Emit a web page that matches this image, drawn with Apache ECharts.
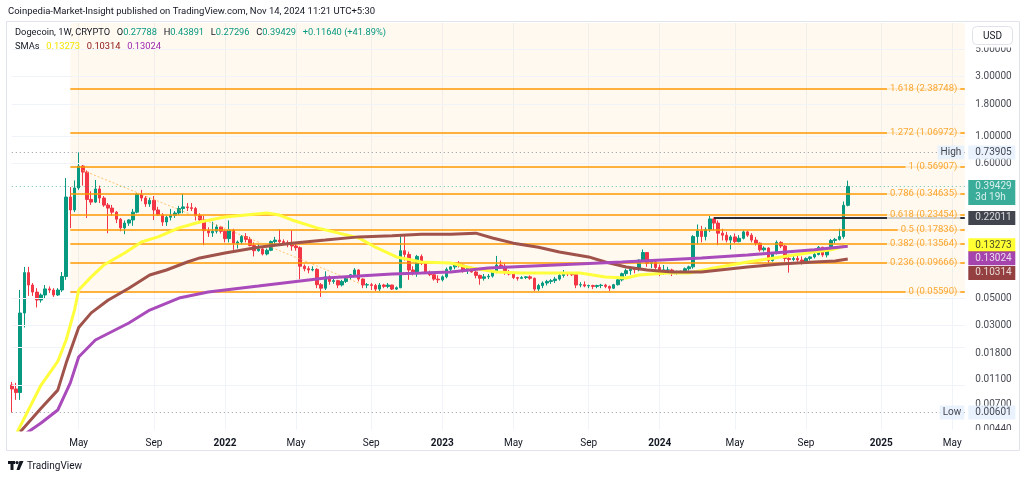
<!DOCTYPE html>
<html>
<head>
<meta charset="utf-8">
<title>Dogecoin 1W</title>
<script src="https://cdn.jsdelivr.net/npm/echarts@6/dist/echarts.min.js"></script>
<style>
  html, body { margin: 0; padding: 0; background: #ffffff; }
  #chart { width: 1024px; height: 479px; }
</style>
</head>
<body>
<div id="chart"></div>
<script>
// weekly candles, first bar is the week of 2021-01-11
const opens = [
  0.0100, 0.0093, 0.0087, 0.0379, 0.080, 0.0636, 0.0558, 0.0482, 0.0529, 0.0592,
  0.0580, 0.0529, 0.0580, 0.0745, 0.324, 0.255, 0.383, 0.575, 0.514, 0.310,
  0.295, 0.376, 0.318, 0.279, 0.264, 0.245, 0.215, 0.183, 0.200, 0.212,
  0.245, 0.340, 0.318, 0.285, 0.305, 0.255, 0.232, 0.204, 0.223, 0.231,
  0.241, 0.262, 0.270, 0.266, 0.262, 0.230, 0.212, 0.174, 0.167, 0.172,
  0.186, 0.172, 0.150, 0.175, 0.138, 0.141, 0.156, 0.148, 0.132, 0.120,
  0.124, 0.113, 0.121, 0.142, 0.146, 0.142, 0.139, 0.134, 0.131, 0.127,
  0.090, 0.086, 0.084, 0.085, 0.064, 0.060, 0.074, 0.068, 0.069, 0.0636,
  0.068, 0.074, 0.077, 0.084, 0.071, 0.0636, 0.0640, 0.0630, 0.059, 0.0636,
  0.062, 0.0636, 0.059, 0.0605, 0.120, 0.112, 0.084, 0.079, 0.108, 0.095,
  0.080, 0.077, 0.071, 0.070, 0.074, 0.085, 0.089, 0.094, 0.092, 0.084,
  0.088, 0.081, 0.076, 0.072, 0.074, 0.075, 0.081, 0.092, 0.090, 0.080,
  0.078, 0.073, 0.072, 0.073, 0.074, 0.072, 0.059, 0.063, 0.066, 0.068,
  0.069, 0.071, 0.076, 0.080, 0.078, 0.077, 0.0636, 0.0640, 0.0625, 0.0630,
  0.0620, 0.0630, 0.0635, 0.0620, 0.0600, 0.0640, 0.0700, 0.0785, 0.0830, 0.0850,
  0.0845, 0.101, 0.116, 0.095, 0.097, 0.088, 0.080, 0.084, 0.084, 0.079,
  0.081, 0.082, 0.086, 0.089, 0.156, 0.173, 0.156, 0.178, 0.216, 0.200,
  0.166, 0.160, 0.146, 0.155, 0.142, 0.151, 0.170, 0.160, 0.146, 0.138,
  0.122, 0.126, 0.100, 0.114, 0.140, 0.131, 0.104, 0.102, 0.104, 0.101,
  0.098, 0.104, 0.107, 0.112, 0.128, 0.111, 0.123, 0.145, 0.148, 0.156,
  0.27788
];
const highs = [
  0.0106, 0.0104, 0.058, 0.089, 0.089, 0.066, 0.060, 0.0545, 0.0636, 0.062,
  0.060, 0.060, 0.081, 0.46, 0.39, 0.44, 0.739, 0.586, 0.53, 0.36,
  0.444, 0.40, 0.33, 0.29, 0.28, 0.25, 0.22, 0.21, 0.215, 0.26,
  0.35, 0.37, 0.33, 0.32, 0.33, 0.27, 0.24, 0.23, 0.26, 0.25,
  0.275, 0.345, 0.29, 0.29, 0.27, 0.24, 0.23, 0.185, 0.205, 0.195,
  0.19, 0.175, 0.21, 0.18, 0.145, 0.16, 0.166, 0.155, 0.14, 0.135,
  0.126, 0.125, 0.145, 0.155, 0.178, 0.148, 0.145, 0.175, 0.138, 0.13,
  0.093, 0.09, 0.09, 0.087, 0.066, 0.082, 0.076, 0.072, 0.070, 0.070,
  0.075, 0.078, 0.087, 0.085, 0.072, 0.066, 0.066, 0.065, 0.066, 0.065,
  0.066, 0.064, 0.062, 0.157, 0.157, 0.118, 0.090, 0.111, 0.112, 0.097,
  0.083, 0.080, 0.076, 0.076, 0.088, 0.090, 0.096, 0.099, 0.094, 0.090,
  0.089, 0.083, 0.077, 0.078, 0.078, 0.083, 0.109, 0.100, 0.095, 0.084,
  0.081, 0.074, 0.075, 0.075, 0.076, 0.073, 0.065, 0.068, 0.070, 0.071,
  0.074, 0.079, 0.084, 0.081, 0.080, 0.078, 0.067, 0.068, 0.064, 0.064,
  0.064, 0.065, 0.065, 0.063, 0.065, 0.071, 0.080, 0.086, 0.087, 0.086,
  0.102, 0.123, 0.117, 0.100, 0.100, 0.093, 0.092, 0.089, 0.086, 0.083,
  0.083, 0.088, 0.091, 0.160, 0.195, 0.190, 0.185, 0.228, 0.222, 0.210,
  0.180, 0.170, 0.160, 0.165, 0.160, 0.175, 0.174, 0.166, 0.155, 0.140,
  0.130, 0.128, 0.116, 0.145, 0.143, 0.133, 0.112, 0.110, 0.113, 0.108,
  0.106, 0.108, 0.115, 0.131, 0.129, 0.125, 0.149, 0.152, 0.180, 0.298,
  0.43891
];
const lows = [
  0.00601, 0.0076, 0.0076, 0.029, 0.052, 0.052, 0.042, 0.046, 0.050, 0.055,
  0.051, 0.052, 0.056, 0.070, 0.182, 0.245, 0.37, 0.40, 0.22, 0.28,
  0.29, 0.29, 0.27, 0.166, 0.23, 0.20, 0.172, 0.163, 0.19, 0.19,
  0.24, 0.30, 0.27, 0.27, 0.212, 0.23, 0.19, 0.19, 0.21, 0.22,
  0.232, 0.24, 0.25, 0.25, 0.21, 0.20, 0.133, 0.155, 0.155, 0.165,
  0.165, 0.14, 0.14, 0.122, 0.125, 0.135, 0.14, 0.13, 0.108, 0.118,
  0.11, 0.11, 0.119, 0.135, 0.138, 0.133, 0.128, 0.12, 0.12, 0.071,
  0.082, 0.079, 0.082, 0.060, 0.051, 0.058, 0.064, 0.065, 0.060, 0.062,
  0.066, 0.070, 0.075, 0.068, 0.060, 0.060, 0.058, 0.057, 0.057, 0.060,
  0.060, 0.058, 0.058, 0.0600, 0.100, 0.070, 0.076, 0.074, 0.092, 0.078,
  0.075, 0.069, 0.066, 0.068, 0.072, 0.082, 0.085, 0.088, 0.080, 0.078,
  0.080, 0.072, 0.064, 0.069, 0.071, 0.073, 0.079, 0.086, 0.077, 0.076,
  0.071, 0.069, 0.071, 0.071, 0.070, 0.057, 0.057, 0.060, 0.063, 0.065,
  0.066, 0.069, 0.073, 0.075, 0.075, 0.060, 0.061, 0.061, 0.060, 0.059,
  0.060, 0.060, 0.060, 0.057, 0.059, 0.063, 0.068, 0.075, 0.077, 0.079,
  0.082, 0.098, 0.089, 0.087, 0.085, 0.075, 0.077, 0.079, 0.075, 0.077,
  0.078, 0.080, 0.083, 0.086, 0.135, 0.140, 0.145, 0.170, 0.175, 0.133,
  0.145, 0.140, 0.123, 0.138, 0.140, 0.148, 0.155, 0.140, 0.132, 0.118,
  0.118, 0.095, 0.098, 0.112, 0.126, 0.098, 0.080, 0.099, 0.098, 0.093,
  0.095, 0.100, 0.104, 0.110, 0.107, 0.106, 0.121, 0.138, 0.145, 0.150,
  0.27296
];
const closes = [
  0.0093, 0.0087, 0.0379, 0.080, 0.0636, 0.0558, 0.0482, 0.0529, 0.0592, 0.0580,
  0.0529, 0.0580, 0.0745, 0.324, 0.255, 0.383, 0.575, 0.514, 0.310, 0.295,
  0.376, 0.318, 0.279, 0.264, 0.245, 0.215, 0.183, 0.200, 0.212, 0.245,
  0.340, 0.318, 0.285, 0.305, 0.255, 0.232, 0.204, 0.223, 0.231, 0.241,
  0.262, 0.270, 0.266, 0.262, 0.230, 0.212, 0.174, 0.167, 0.172, 0.186,
  0.172, 0.150, 0.175, 0.138, 0.141, 0.156, 0.148, 0.132, 0.120, 0.124,
  0.113, 0.121, 0.142, 0.146, 0.142, 0.139, 0.134, 0.131, 0.127, 0.090,
  0.086, 0.084, 0.085, 0.064, 0.060, 0.074, 0.068, 0.069, 0.0636, 0.068,
  0.074, 0.077, 0.084, 0.071, 0.0636, 0.0640, 0.0630, 0.059, 0.0636, 0.062,
  0.0636, 0.059, 0.0605, 0.120, 0.112, 0.084, 0.079, 0.108, 0.095, 0.080,
  0.077, 0.071, 0.070, 0.074, 0.085, 0.089, 0.094, 0.092, 0.084, 0.088,
  0.081, 0.076, 0.072, 0.074, 0.075, 0.081, 0.092, 0.090, 0.080, 0.078,
  0.073, 0.072, 0.073, 0.074, 0.072, 0.059, 0.063, 0.066, 0.068, 0.069,
  0.071, 0.076, 0.080, 0.078, 0.077, 0.0636, 0.0640, 0.0625, 0.0630, 0.0620,
  0.0630, 0.0635, 0.0620, 0.0600, 0.0640, 0.0700, 0.0785, 0.0830, 0.0850, 0.0845,
  0.101, 0.116, 0.095, 0.097, 0.088, 0.080, 0.084, 0.084, 0.079, 0.081,
  0.082, 0.086, 0.089, 0.156, 0.173, 0.156, 0.178, 0.216, 0.200, 0.166,
  0.160, 0.146, 0.155, 0.142, 0.151, 0.170, 0.160, 0.146, 0.138, 0.122,
  0.126, 0.100, 0.114, 0.140, 0.131, 0.104, 0.102, 0.104, 0.101, 0.098,
  0.104, 0.107, 0.112, 0.128, 0.111, 0.123, 0.145, 0.148, 0.156, 0.278,
  0.39429
];

// moving averages, [week index, value]
const sma50 = [
  [1, 0.0040], [7, 0.0100], [11, 0.0155], [13, 0.023], [15, 0.040], [16, 0.058],
  [19, 0.074], [22, 0.092], [27, 0.115], [31, 0.141], [35, 0.155], [40, 0.183],
  [45, 0.204], [51, 0.224], [61, 0.241], [64, 0.232], [67, 0.212], [73, 0.183],
  [77, 0.170], [83, 0.152], [87, 0.128], [92, 0.107], [98, 0.0974], [105, 0.0956],
  [110, 0.0872], [116, 0.0809], [122, 0.0794], [129, 0.0794], [136, 0.0794],
  [142, 0.0738], [147, 0.0724], [150, 0.0765], [157, 0.0794], [162, 0.0794],
  [168, 0.0872], [176, 0.0974], [184, 0.107], [192, 0.117], [196, 0.122], [200, 0.13273]
];
const sma100 = [
  [2, 0.0042], [7, 0.0065], [11, 0.0091], [13, 0.015], [16, 0.029], [19, 0.038],
  [23, 0.048], [28, 0.060], [33, 0.0765], [37, 0.084], [42, 0.0974], [45, 0.105],
  [51, 0.115], [59, 0.128], [67, 0.138], [75, 0.146], [83, 0.155], [91, 0.158],
  [98, 0.163], [105, 0.163], [111, 0.166], [115, 0.152], [120, 0.138], [126, 0.128],
  [131, 0.117], [138, 0.107], [142, 0.0974], [147, 0.0888], [152, 0.084], [158, 0.0809],
  [165, 0.0809], [176, 0.0888], [184, 0.0939], [192, 0.0974], [197, 0.0992], [200, 0.10314]
];
const sma200 = [
  [3, 0.0040], [7, 0.00495], [11, 0.0063], [14, 0.0104], [16, 0.0168], [20, 0.023],
  [28, 0.0315], [33, 0.040], [40, 0.050], [47, 0.0559], [51, 0.058], [59, 0.0624],
  [67, 0.0673], [75, 0.0724], [83, 0.0752], [91, 0.078], [98, 0.0794], [105, 0.0809],
  [114, 0.0872], [130, 0.0921], [146, 0.0974], [165, 0.105], [176, 0.111], [192, 0.122],
  [200, 0.13024]
];

const fibRatios = ['0', '0.236', '0.382', '0.5', '0.618', '0.786', '1', '1.272', '1.618'];
const fibPrices = [0.0559, 0.09666, 0.13564, 0.17836, 0.23454, 0.34635, 0.56907, 1.06972, 2.38748];
const priceTicks = [5, 3, 1.8, 1, 0.6, 0.05, 0.03, 0.018, 0.011, 0.007, 0.0044];

const highPrice = 0.73905;
const lowPrice = 0.00601;
const lastPrice = 0.39429;
const rayPrice = 0.22011;
const smaLast = [0.13273, 0.10314, 0.13024];

const FONT = 'Roboto, "Noto Sans", sans-serif';
const DAY = 86400000;
const t0 = Date.UTC(2021, 0, 11);
const weekCount = 229;
const lastIdx = weekCount - 1;
const yMin = 0.004352, yMax = 8.105;

const weeks = [];
for (let i = 0; i < weekCount; i++) {
  weeks.push(new Date(t0 + i * 7 * DAY).toISOString().slice(0, 10));
}
function isMark(i) {
  const d = new Date(t0 + i * 7 * DAY);
  const m = d.getUTCMonth();
  return d.getUTCDate() <= 7 && (m === 0 || m === 4 || m === 8);
}

const chart = echarts.init(document.getElementById('chart'));

// a label on the price scale, anchored on the last week of the axis
function badge(value, text, bg, fg, dy) {
  return {
    value: [lastIdx, value],
    label: { formatter: text, backgroundColor: bg, color: fg, offset: [0, dy || 0] }
  };
}

const option = {
  animation: false,
  backgroundColor: '#ffffff',
  grid: { left: 11.8, right: 59.2, top: 23, bottom: 49, containLabel: false, outerBoundsMode: 'none' },
  xAxis: {
    type: 'category',
    data: weeks,
    boundaryGap: false,
    axisLine: { show: false },
    axisTick: { show: false },
    axisLabel: {
      interval: (i) => isMark(i),
      margin: 8,
      color: '#131722',
      fontSize: 10,
      fontFamily: FONT,
      formatter: (v) => {
        const d = new Date(v);
        const m = d.getUTCMonth();
        if (m === 0) return '{y|' + d.getUTCFullYear() + '}';
        return m === 4 ? 'May' : 'Sep';
      },
      rich: { y: { fontWeight: 'bold', fontSize: 10, fontFamily: FONT, color: '#131722' } }
    },
    splitLine: { show: true, interval: (i) => isMark(i), lineStyle: { color: '#f0f3fa', width: 1 } }
  },
  yAxis: { type: 'log', logBase: 10, min: yMin, max: yMax, show: false },
  series: [
    {
      // fib fill and price scale grid
      type: 'line', data: [], z: 1, silent: true,
      markArea: {
        silent: true,
        itemStyle: { color: 'rgba(255,152,0,0.06)' },
        data: [[{ coord: [14, fibPrices[0]] }, { coord: [lastIdx, yMax] }]]
      },
      markLine: {
        silent: true, symbol: 'none', animation: false,
        lineStyle: { color: '#f0f3fa', width: 1, type: 'solid' },
        label: { show: false },
        data: priceTicks.map((v) => ({ yAxis: v }))
      }
    },
    {
      type: 'candlestick', name: 'Dogecoin', z: 3, barWidth: 3,
      data: opens.map((o, i) => [o, closes[i], lows[i], highs[i]]),
      itemStyle: {
        color: '#089981', color0: '#f23645',
        borderColor: '#089981', borderColor0: '#f23645', borderWidth: 1
      }
    },
    {
      // fibonacci levels, trend line, price lines
      type: 'line', data: [], z: 4, silent: true,
      markLine: {
        silent: true, symbol: 'none', animation: false,
        label: { show: false },
        data: fibPrices.map((v) => [
          { coord: [14, v], lineStyle: { color: '#ff9800', width: 1.5, type: 'solid' } },
          { coord: [lastIdx, v] }
        ]).concat([
          [{ coord: [17, 0.53], lineStyle: { color: '#ffb74d', width: 1, type: [2, 2], opacity: 0.8 } }, { coord: [83, 0.066] }],
          [{ coord: [168, rayPrice], lineStyle: { color: '#2a2e39', width: 2, type: 'solid' } }, { coord: [lastIdx, rayPrice] }],
          [{ coord: [0, highPrice], lineStyle: { color: '#9598a1', width: 1, type: [1, 3] } }, { coord: [lastIdx, highPrice] }],
          [{ coord: [0, lowPrice], lineStyle: { color: '#9598a1', width: 1, type: [1, 3] } }, { coord: [lastIdx, lowPrice] }],
          [{ coord: [0, lastPrice], lineStyle: { color: '#089981', width: 1, type: [1, 3], opacity: 0.6 } }, { coord: [lastIdx, lastPrice] }]
        ])
      }
    },
    {
      type: 'line', name: 'SMA 50', data: sma50, z: 5, symbol: 'none', silent: true,
      lineStyle: { color: '#ffff3c', width: 3 }
    },
    {
      type: 'line', name: 'SMA 100', data: sma100, z: 5, symbol: 'none', silent: true,
      lineStyle: { color: '#a0534a', width: 3 }
    },
    {
      type: 'line', name: 'SMA 200', data: sma200, z: 5, symbol: 'none', silent: true,
      lineStyle: { color: '#a94bbb', width: 3 }
    },
    {
      // fib labels at the right end of each level
      type: 'scatter', z: 6, silent: true, symbolSize: 1,
      itemStyle: { color: 'rgba(0,0,0,0)' },
      data: fibPrices.map((v, i) => ({
        value: [lastIdx, v],
        label: { formatter: fibRatios[i] + ' (' + v.toFixed(5) + ')' }
      })).concat([
        { value: [lastIdx, highPrice], label: { formatter: 'High', color: '#131722', fontSize: 10, backgroundColor: '#e3effd', padding: [2, 3], distance: 0 } },
        { value: [lastIdx, lowPrice], label: { formatter: 'Low', color: '#131722', fontSize: 10, backgroundColor: '#e3effd', padding: [2, 3], distance: 0 } }
      ]),
      label: {
        show: true, position: 'left', distance: 4, color: '#f79200',
        fontSize: 9.5, fontFamily: FONT, backgroundColor: '#fff9f0', padding: [0, 3]
      }
    },
    {
      // price scale tick labels
      type: 'scatter', z: 7, silent: true, symbolSize: 1,
      itemStyle: { color: 'rgba(0,0,0,0)' },
      data: priceTicks.map((v) => ({ value: [lastIdx, v], label: { formatter: v.toFixed(5) } })),
      label: { show: true, position: 'right', distance: 10, color: '#131722', fontSize: 10, fontFamily: FONT }
    },
    {
      // price badges on the scale
      type: 'scatter', z: 8, silent: true, symbolSize: 1,
      itemStyle: { color: 'rgba(0,0,0,0)' },
      label: {
        show: true, position: 'right', distance: 3, fontSize: 10, fontFamily: FONT,
        lineHeight: 11, padding: [2, 4, 1, 7], width: 36
      },
      data: [
        badge(highPrice, highPrice.toFixed(5), '#e3effd', '#131722'),
        badge(lowPrice, lowPrice.toFixed(5), '#e3effd', '#131722'),
        badge(lastPrice, lastPrice.toFixed(5) + '\n3d 19h', '#089981', '#ffffff', 6),
        badge(rayPrice, rayPrice.toFixed(5), '#131722', '#ffffff'),
        badge(smaLast[0], smaLast[0].toFixed(5), '#ffff00', '#131722'),
        badge(smaLast[2], smaLast[2].toFixed(5), '#8e1599', '#ffffff', 12),
        badge(smaLast[1], smaLast[1].toFixed(5), '#7b1010', '#ffffff', 14)
      ]
    }
  ],
  graphic: [
    { type: 'rect', z: 20, silent: true, shape: { x: 966, y: 21, width: 54, height: 26.5 }, style: { fill: '#ffffff' } },
    { type: 'rect', z: 20, silent: true, shape: { x: 966, y: 430, width: 54, height: 20 }, style: { fill: '#ffffff' } },
    { type: 'rect', z: 21, silent: true, shape: { x: 6.5, y: 21.5, width: 1013, height: 429 }, style: { fill: 'none', stroke: '#e0e3eb', lineWidth: 1 } },
    { type: 'rect', z: 22, silent: true, shape: { x: 972.5, y: 26.5, width: 40, height: 18, r: 4 }, style: { fill: '#ffffff', stroke: '#e0e3eb', lineWidth: 1 } },
    { type: 'text', z: 23, silent: true, x: 992.5, y: 36, style: { text: 'USD', fill: '#131722', font: '10px ' + FONT, align: 'center', verticalAlign: 'middle' } },
    {
      type: 'text', z: 23, silent: true, x: 8, y: 12,
      style: { text: 'Coinpedia-Market-Insight published on TradingView.com, Nov 14, 2024 11:21 UTC+5:30', fill: '#131722', font: '9.5px ' + FONT, verticalAlign: 'middle' }
    },
    {
      type: 'text', z: 23, silent: true, x: 15, y: 33,
      style: {
        text: '{d|Dogecoin, 1W, CRYPTO}  {d|O}{g|0.27788}  {d|H}{g|0.43891}  {d|L}{g|0.27296}  {d|C}{g|0.39429}  {g|+0.11640 (+41.89%)}',
        verticalAlign: 'middle',
        rich: {
          d: { fill: '#131722', fontSize: 9.3, fontFamily: FONT },
          g: { fill: '#089981', fontSize: 9.3, fontFamily: FONT }
        }
      }
    },
    {
      type: 'text', z: 23, silent: true, x: 15, y: 47,
      style: {
        text: '{d|SMAs}  {y|0.13273}  {r|0.10314}  {p|0.13024}',
        verticalAlign: 'middle',
        rich: {
          d: { fill: '#131722', fontSize: 9.3, fontFamily: FONT },
          y: { fill: '#f5e600', fontSize: 9.3, fontFamily: FONT },
          r: { fill: '#8b1414', fontSize: 9.3, fontFamily: FONT },
          p: { fill: '#9c27b0', fontSize: 9.3, fontFamily: FONT }
        }
      }
    },
    { type: 'rect', z: 23, silent: true, shape: { x: 8, y: 461, width: 7, height: 3 }, style: { fill: '#131722' } },
    { type: 'rect', z: 23, silent: true, shape: { x: 10.5, y: 461, width: 3, height: 9 }, style: { fill: '#131722' } },
    { type: 'circle', z: 23, silent: true, shape: { cx: 17, cy: 462.6, r: 1.6 }, style: { fill: '#131722' } },
    { type: 'polygon', z: 23, silent: true, shape: { points: [[19.5, 461], [23.5, 461], [19.5, 470], [16.5, 470]] }, style: { fill: '#131722' } },
    { type: 'text', z: 23, silent: true, x: 27, y: 466, style: { text: 'TradingView', fill: '#131722', font: '10px ' + FONT, verticalAlign: 'middle' } }
  ]
};

chart.setOption(option);
</script>
</body>
</html>
